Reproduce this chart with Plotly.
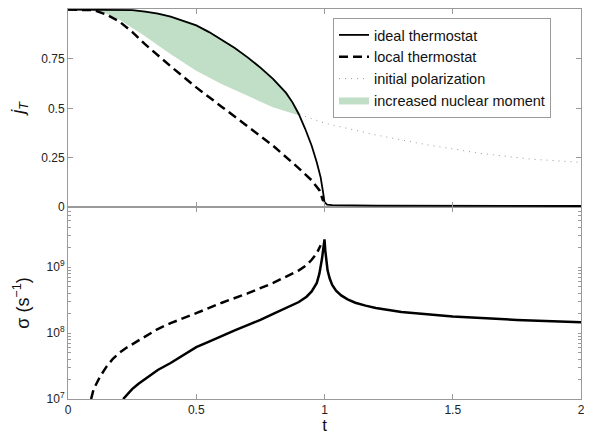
import plotly.graph_objects as go

# ---------------- data ----------------
# upper panel: j_T versus t
t_ideal = [0.0, 0.1, 0.2, 0.25, 0.3, 0.35, 0.4, 0.45, 0.5, 0.55, 0.6, 0.65, 0.7, 0.75, 0.8, 0.85, 0.875, 0.9,
           0.925, 0.95, 0.97, 0.985, 0.995, 1.0, 1.01, 1.03, 1.2, 1.6, 2.0]
j_ideal = [1.0, 1.0, 0.999, 0.997, 0.99, 0.98, 0.964, 0.944, 0.92, 0.886, 0.847, 0.805, 0.758, 0.706, 0.648, 0.578,
           0.53, 0.47, 0.395, 0.31, 0.225, 0.15, 0.07, 0.025, 0.012, 0.009, 0.007, 0.006, 0.005]

t_local = [0.0, 0.1, 0.15, 0.2, 0.25, 0.3, 0.4, 0.5, 0.6, 0.7, 0.8, 0.9, 0.95, 0.98, 0.995]
j_local = [1.0, 0.997, 0.975, 0.94, 0.887, 0.825, 0.713, 0.606, 0.507, 0.408, 0.31, 0.196, 0.135, 0.085, 0.03]

t_init = [0.0, 0.1, 0.15, 0.2, 0.25, 0.3, 0.4, 0.5, 0.6, 0.7, 0.8, 0.9, 1.0, 1.2, 1.4, 1.6, 1.8, 2.0]
j_init = [1.0, 1.0, 0.985, 0.955, 0.915, 0.872, 0.78, 0.696, 0.628, 0.567, 0.51, 0.47, 0.425, 0.365, 0.315, 0.273,
          0.243, 0.226]

# lower panel: sigma (s^-1) versus t
t_sig_ideal = [0.215, 0.23, 0.25, 0.275, 0.3, 0.35, 0.4, 0.45, 0.5, 0.55, 0.6, 0.65, 0.7, 0.75, 0.8, 0.865, 0.9,
               0.93, 0.95, 0.97, 0.98, 0.99, 0.995, 1.0, 1.003, 1.007, 1.012, 1.02, 1.03, 1.045, 1.065, 1.09,
               1.12, 1.16, 1.2, 1.3, 1.4, 1.5, 1.75, 2.0]
s_ideal = [1.00e7, 1.17e7, 1.41e7, 1.70e7, 2.00e7, 2.75e7, 3.51e7, 4.68e7, 6.10e7, 7.41e7, 9.12e7, 1.10e8, 1.32e8,
           1.58e8, 1.95e8, 2.51e8, 2.95e8, 3.55e8, 4.27e8, 5.75e8, 7.94e8, 1.32e9, 1.78e9, 2.63e9, 1.78e9, 1.20e9,
           8.91e8, 6.76e8, 5.37e8, 4.37e8, 3.72e8, 3.24e8, 2.88e8, 2.60e8, 2.40e8, 2.09e8, 1.91e8, 1.78e8, 1.58e8,
           1.45e8]

t_sig_local = [0.09, 0.1, 0.125, 0.15, 0.175, 0.2, 0.225, 0.25, 0.3, 0.35, 0.4, 0.45, 0.5, 0.6, 0.7, 0.8, 0.865,
               0.9, 0.93, 0.95, 0.97, 0.985]
s_local = [1.00e7, 1.41e7, 2.19e7, 3.09e7, 4.07e7, 5.01e7, 5.89e7, 6.76e7, 8.91e7, 1.15e8, 1.41e8, 1.70e8, 2.00e8,
           2.88e8, 3.98e8, 5.75e8, 7.59e8, 8.91e8, 1.07e9, 1.29e9, 1.62e9, 2.14e9]

x_ticks = [0, 0.5, 1, 1.5, 2]
x_ticktext = ["0", "0.5", "1", "1.5", "2"]
j_ticks = [0, 0.25, 0.5, 0.75]
j_ticktext = ["0", "0.25", "0.5", "0.75"]
sigma_decades = [7, 8, 9]
# ticks at 1..9 x 10^n, labelled only at the decades
sigma_ticks = [m * 10 ** e for e in sigma_decades for m in range(1, 10)]
sigma_ticktext = [("10<sup>%d</sup>" % e if m == 1 else "") for e in sigma_decades for m in range(1, 10)]

names = ["ideal thermostat", "local thermostat", "initial polarization", "increased nuclear moment"]

# ---------------- figure ----------------
FONT = "Liberation Sans, Arial, sans-serif"
AXC = "#9a9a9a"
GREEN = "rgb(193,222,198)"

# region where the ideal curve lies above the initial polarization (closed polygon)
lo_t = [t for t in t_init if 0.1 <= t <= 0.9]
lo_j = [j for t, j in zip(t_init, j_init) if 0.1 <= t <= 0.9]
hi_t = [t for t in t_ideal if 0.1 <= t <= 0.9]
hi_j = [j for t, j in zip(t_ideal, j_ideal) if 0.1 <= t <= 0.9]
poly_t = hi_t + lo_t[::-1]
poly_j = hi_j + lo_j[::-1]

fig = go.Figure()

# dotted line on the base upper subplot
fig.add_trace(go.Scatter(x=t_init, y=j_init, mode="lines", name=names[2], legendrank=3,
                         line=dict(color="#9a9a9a", width=1, dash="1px,5px"),
                         xaxis="x2", yaxis="y2"))
# fill and thick lines on an overlaying subplot so the fill hides the dotted line
fig.add_trace(go.Scatter(x=poly_t, y=poly_j, mode="lines", fill="toself", fillcolor=GREEN,
                         line=dict(color=GREEN, width=2),
                         name=names[3], legendrank=4, xaxis="x3", yaxis="y3"))
fig.add_trace(go.Scatter(x=t_local, y=j_local, mode="lines", name=names[1], legendrank=2,
                         line=dict(color="black", width=2.5, dash="9px,5px"),
                         xaxis="x3", yaxis="y3"))
fig.add_trace(go.Scatter(x=t_ideal, y=j_ideal, mode="lines", name=names[0], legendrank=1,
                         line=dict(color="black", width=1.8),
                         xaxis="x3", yaxis="y3"))

fig.add_trace(go.Scatter(x=t_sig_local, y=s_local, mode="lines", showlegend=False,
                         line=dict(color="black", width=2.5, dash="9px,5px"), xaxis="x", yaxis="y"))
fig.add_trace(go.Scatter(x=t_sig_ideal, y=s_ideal, mode="lines", showlegend=False,
                         line=dict(color="black", width=2.5), xaxis="x", yaxis="y"))

split = 192 / 390
JRANGE = [0, 1.003]
SRANGE = [7, 9.91]

common = dict(showline=True, linecolor=AXC, linewidth=1, ticks="inside", ticklen=5,
              tickcolor=AXC, showgrid=False, zeroline=False,
              tickfont=dict(family=FONT, size=12, color="#222"))

# the page body adds an 8px offset, so the figure is 8px smaller on each side
fig.update_layout(
    width=584, height=427,
    margin=dict(l=60, r=11, t=1, b=36, autoexpand=False),
    paper_bgcolor="white", plot_bgcolor="white",
    font=dict(family=FONT, color="#111"),
    showlegend=True,
    legend=dict(x=0.5166, y=0.977, xanchor="left", yanchor="top", traceorder="normal",
                bgcolor="white", bordercolor=AXC, borderwidth=1,
                font=dict(family=FONT, size=14.5, color="#111"),
                tracegroupgap=0, itemwidth=30),
    xaxis=dict(common, domain=[0, 1], anchor="y", range=[0, 2], tickvals=x_ticks, ticktext=x_ticktext,
               mirror="ticks",
               title=dict(text="t", font=dict(family=FONT, size=17), standoff=2)),
    yaxis=dict(common, domain=[0, split], anchor="x", type="log", range=SRANGE,
               tickmode="array", tickvals=sigma_ticks, ticktext=sigma_ticktext, mirror="ticks",
               ticklen=3,
               title=dict(text="σ (s<sup>−1</sup>)", font=dict(family=FONT, size=18), standoff=12)),
    xaxis2=dict(common, domain=[0, 1], anchor="y2", range=[0, 2], tickvals=x_ticks,
                showticklabels=False, mirror="ticks", matches="x"),
    yaxis2=dict(common, domain=[split, 1], anchor="x2", range=JRANGE, tickvals=j_ticks,
                ticktext=j_ticktext, mirror="ticks",
                title=dict(text="<i>j<sub>T</sub></i>", font=dict(family=FONT, size=18), standoff=12)),
    xaxis3=dict(overlaying="x2", anchor="y3", range=[0, 2], matches="x", visible=False),
    yaxis3=dict(overlaying="y2", anchor="x3", range=JRANGE, visible=False),
)

fig.write_html("out.html")
